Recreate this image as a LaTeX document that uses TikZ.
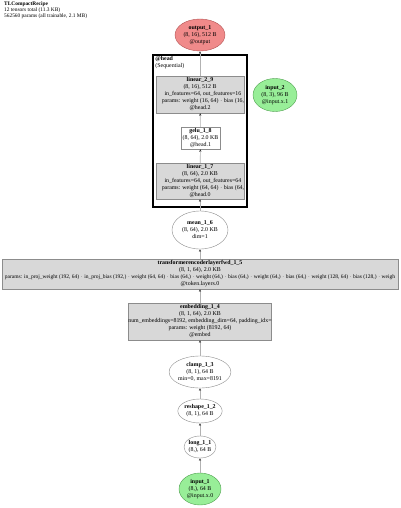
\documentclass[tikz,border=0pt]{standalone}
\usepackage{fontspec}
\setmainfont{Liberation Serif}
\usepackage{tikz}
\usetikzlibrary{arrows.meta, shapes.geometric}
\definecolor{outfill}{HTML}{F08A8A}
\definecolor{outline}{HTML}{B05050}
\definecolor{infill}{HTML}{98EE98}
\definecolor{inline}{HTML}{4FA04F}
\definecolor{opfill}{HTML}{D8D8D8}
\definecolor{opline}{HTML}{8C8C8C}

\begin{document}
\begin{tikzpicture}[x=1pt, y=-1pt,
    every node/.style={font=\fontsize{5.9}{7}\selectfont, align=center, inner sep=0},
    el/.style={draw=opline, ellipse, fill=white},
    outel/.style={draw=outline, ellipse, fill=outfill},
    inel/.style={draw=inline, ellipse, fill=infill},
    op/.style={draw=opline, rectangle, fill=opfill},
    plain/.style={draw=opline, rectangle, fill=white},
    edge/.style={draw=gray!60, line width=0.6pt, -{Stealth[length=2.6pt, width=2.2pt, color=black!80]}},
    >=Stealth]
\useasboundingbox (0,0) rectangle (400,508);
\node[anchor=north west, align=left, font=\fontsize{5.4}{5.8}\selectfont] (title) at (4,1.5)
  {\textbf{TLCompactRecipe}\\12 tensors total (11.3 KB)\\562560 params (all trainable, 2.1 MB)};
% head cluster
\node[draw, line width=1.6pt, rectangle, minimum width=94, minimum height=152] (head) at (200,131) {};
\node[anchor=north west, align=left] (headlbl) at ([shift={(3,2)}]head.north west) {\textbf{@head}\\(Sequential)};
\node[outel, minimum width=50, minimum height=32] (out1) at (200,35) {\textbf{output\_1}\\(8, 16), 512 B\\@output};
\node[op, minimum width=76, minimum height=37] (lin29) at (200,94.5)
  {\textbf{linear\_2\_9}\\(8, 16), 512 B\\\hphantom{xx}in\_features=64, out\_features=16\\\hphantom{xx}params: weight (16, 64) $\cdot$ bias (16,\\@head.2};
\node[plain, minimum width=39, minimum height=22] (gelu18) at (200.5,138) {\textbf{gelu\_1\_8}\\(8, 64), 2.0 KB\\@head.1};
\node[op, minimum width=76, minimum height=36] (lin17) at (200,181)
  {\textbf{linear\_1\_7}\\(8, 64), 2.0 KB\\\hphantom{xx}in\_features=64, out\_features=64\\\hphantom{xx}params: weight (64, 64) $\cdot$ bias (64,\\@head.0};
\node[inel, minimum width=44, minimum height=33] (in2) at (275,95) {\textbf{input\_2}\\(8, 3), 96 B\\@input.x.1};
\node[el, minimum width=56, minimum height=38] (mean16) at (200,230) {\textbf{mean\_1\_6}\\(8, 64), 2.0 KB\\dim=1};
\node[op, minimum width=396, minimum height=30] (tf15) at (200,274)
  {\textbf{transformerencoderlayerfwd\_1\_5}\\(8, 1, 64), 2.0 KB\\{\fontsize{5.5}{7}\selectfont params: in\_proj\_weight (192, 64) $\cdot$ in\_proj\_bias (192,) $\cdot$ weight (64, 64) $\cdot$ bias (64,) $\cdot$ weight (64,) $\cdot$ bias (64,) $\cdot$ weight (64,) $\cdot$ bias (64,) $\cdot$ weight (128, 64) $\cdot$ bias (128,) $\cdot$ weigh}\\@token.layers.0};
\node[op, minimum width=134, minimum height=37] (emb14) at (200,321.5)
  {\textbf{embedding\_1\_4}\\(8, 1, 64), 2.0 KB\\num\_embeddings=8192, embedding\_dim=64, padding\_idx=\\params: weight (8192, 64)\\@embed};
\node[el, minimum width=58, minimum height=32] (clamp13) at (200,372) {\textbf{clamp\_1\_3}\\(8, 1), 64 B\\min=0, max=8191};
\node[el, minimum width=36, minimum height=24] (resh12) at (200,411) {\textbf{reshape\_1\_2}\\(8, 1), 64 B};
\node[el, minimum width=28, minimum height=22] (long11) at (200,447) {\textbf{long\_1\_1}\\(8,), 64 B};
\node[inel, minimum width=42, minimum height=32] (in1) at (200,489) {\textbf{input\_1}\\(8,), 64 B\\@input.x.0};
\draw[edge] (in1) -- (long11);
\draw[edge] (long11) -- (resh12);
\draw[edge] (resh12) -- (clamp13);
\draw[edge] (clamp13) -- (emb14);
\draw[edge] (emb14) -- (tf15);
\draw[edge] (tf15) -- (mean16);
\draw[edge] (mean16) -- (lin17);
\draw[edge] (lin17) -- (gelu18);
\draw[edge] (gelu18) -- (lin29);
\draw[edge] (lin29) -- (out1);
\end{tikzpicture}
\end{document}
